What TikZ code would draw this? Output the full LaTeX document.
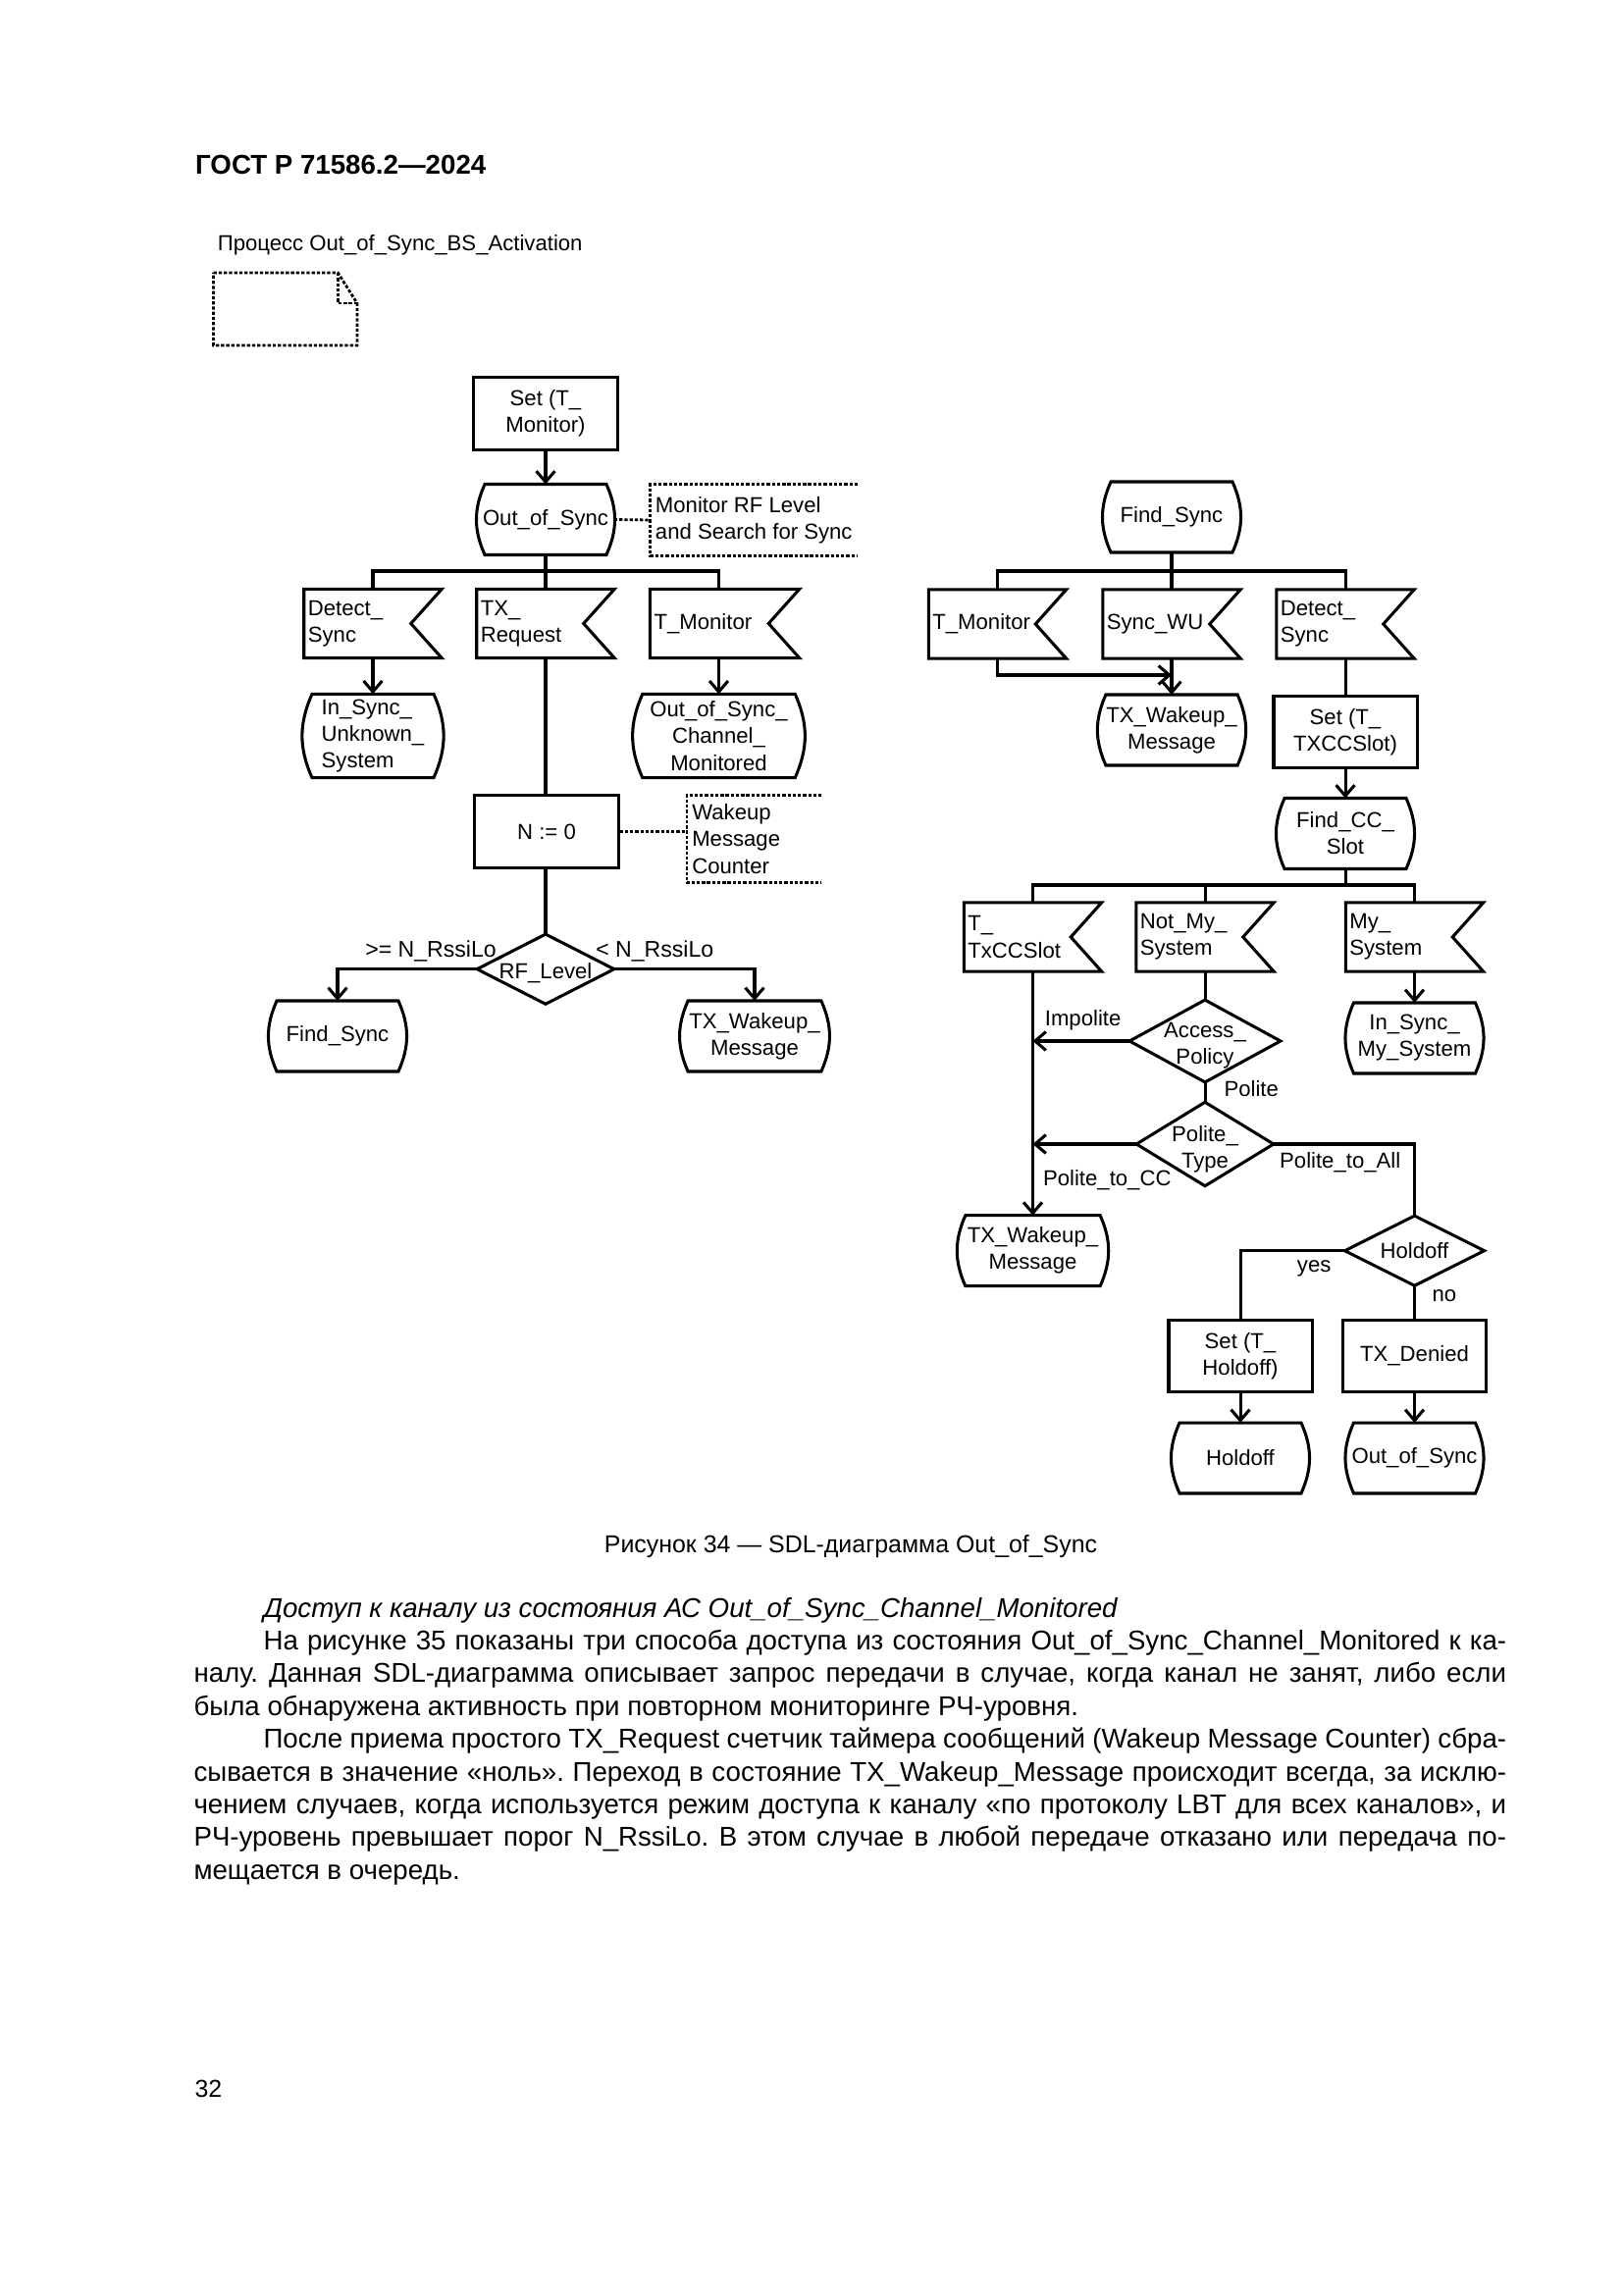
\documentclass[tikz,border=0pt]{standalone}
\usepackage{fontspec}
\setmainfont{Liberation Sans}
\usetikzlibrary{arrows.meta}

\tikzset{
  shp/.style={line width=1.1pt},
  lnk/.style={line width=1.1pt},
  arr/.style={line width=1.1pt,-{Straight Barb[length=1.4mm,width=2.4mm]}},
  dots/.style={line width=1pt,dash pattern=on 1.2pt off 0.7pt},
  txt/.style={font=\fontsize{8}{9.8}\selectfont,inner sep=0.45mm},
  box/.style={txt,draw,line width=1.1pt,minimum width=18.55mm,minimum height=9.3mm,align=center},
  state/.style={txt,minimum width=17.6mm,minimum height=9mm,align=center},
  sig/.style={txt,text width=16.8mm,minimum height=8.8mm,align=left},
  dec/.style={minimum width=17.6mm,minimum height=8.9mm,inner sep=0pt},
  dectext/.style={txt,align=center,inner sep=0pt},
  cmt/.style={txt,anchor=west,align=left,inner xsep=0.6mm},
  lbl/.style={txt,anchor=base west,inner sep=0pt},
  body/.style={anchor=base west,inner sep=0pt,font=\fontsize{10}{12}\selectfont},
}

% outlines of the SDL symbols
\newcommand{\drawstate}[1]{\draw[shp] ([xshift=1mm]#1.north west) -- ([xshift=-1mm]#1.north east) to[bend left=24] ([xshift=-1mm]#1.south east) -- ([xshift=1mm]#1.south west) to[bend left=24] ([xshift=1mm]#1.north west) -- cycle;}
\newcommand{\drawsig}[1]{\draw[shp] (#1.north west) -- (#1.north east) -- ([xshift=-4mm]#1.east) -- (#1.south east) -- (#1.south west) -- cycle;}
\newcommand{\drawdec}[1]{\draw[shp] (#1.west) -- (#1.north) -- (#1.east) -- (#1.south) -- cycle;}
% tighter word spaces for the justified lines
\newcommand{\tsp}{\spaceskip=2.78pt plus 2.5pt minus 1.2pt\relax}

\frenchspacing
\begin{document}
\begin{tikzpicture}[x=0.127mm,y=-0.127mm]
 \fill[white] (0,0) rectangle (1654,2339);
 \useasboundingbox (0,0) rectangle (1654,2339);

 % page head
 \node[body,font=\bfseries\fontsize{10}{12}\selectfont] (hdr) at (198.6,178) {ГОСТ Р 71586.2—2024};
 \node[lbl] (proc) at (221.3,256) {Процесс Out\_of\_Sync\_BS\_Activation};
 \draw[dots] (217.6,278) -- (344.4,278) -- (363.9,309) -- (363.9,352) -- (217.6,352) -- cycle;
 \draw[dots] (344.4,278) -- (344.4,309) -- (363.9,309);

 % left part
 \node[box] (setmon) at (556,421.5) {Set (T\_\\Monitor)};
 \node[state] (oos1) at (556,529.5) {Out\_of\_Sync};
 \node[cmt,minimum height=9.1mm] (cmt1) at (662.7,530) {Monitor RF Level\\and Search for Sync};
 \node[sig] (detA) at (380,635.5) {Detect\_\\Sync};
 \node[sig] (txreq) at (556,635.5) {TX\_\\Request};
 \node[sig,text width=18.3mm] (tmonA) at (738.6,635.5) {T\_Monitor};
 \node[state,minimum height=10.7mm,align=left] (insyncU) at (380,750) {In\_Sync\_\\Unknown\_\\System};
 \node[state,minimum width=21.6mm,minimum height=10.7mm] (oosCM) at (732.5,750) {Out\_of\_Sync\_\\Channel\_\\Monitored};
 \node[box] (nzero) at (557,847.5) {N := 0};
 \node[cmt,minimum height=11.2mm] (cmt2) at (700,855) {Wakeup\\Message\\Counter};
 \node[dec] (rflev) at (556,987.7) {};
 \node[dectext] (rflevT) at ([yshift=-0.5mm]rflev) {RF\_Level};
 \node[state] (findA) at (344,1056) {Find\_Sync};
 \node[state,minimum width=19.1mm] (txwA) at (769,1056) {TX\_Wakeup\_\\Message};

 \coordinate (brL) at (556,582);
 \draw[arr] (setmon.south) -- (oos1.north);
 \draw[lnk] (oos1.south) -- (brL);
 \draw[lnk] (detA.north) |- (brL);
 \draw[lnk] (txreq.north) -- (brL);
 \draw[lnk] (oosCM.north |- tmonA.north) |- (brL);
 \draw[arr] (detA.south) -- (insyncU.north);
 \draw[arr] (oosCM.north |- tmonA.south) -- (oosCM.north);
 \draw[lnk] (txreq.south) -- (nzero.north -| txreq.south);
 \draw[lnk] (nzero.south -| rflev.north) -- (rflev.north);
 \draw[arr] (rflev.west) -| (findA.north);
 \draw[arr] (rflev.east) -| (txwA.north);
 \draw[dots] (oos1.east) -- (cmt1.west);
 \draw[dots] ([xshift=26.85mm]cmt1.north west) -- (cmt1.north west) -- (cmt1.south west) -- ([xshift=26.85mm]cmt1.south west);
 \draw[dots] (nzero.east) -- (nzero.east -| cmt2.west);
 \draw[dots] ([xshift=17.45mm]cmt2.north west) -- (cmt2.north west) -- (cmt2.south west) -- ([xshift=17.45mm]cmt2.south west);
 \node[lbl,font=\fontsize{8.35}{10}\selectfont] (ge) at (371.7,975) {>= N\_RssiLo};
 \node[lbl,font=\fontsize{8.35}{10}\selectfont] (lt) at (606.7,975) {< N\_RssiLo};

 % right part
 \node[state] (findB) at (1194,527) {Find\_Sync};
 \node[sig] (tmonB) at (1016.5,636) {T\_Monitor};
 \node[sig] (syncwu) at (1194,636) {Sync\_WU};
 \node[sig] (detB) at (1371,636) {Detect\_\\Sync};
 \node[state,minimum width=18.9mm] (txwB) at (1194,744) {TX\_Wakeup\_\\Message};
 \node[box] (settx) at (1371,746) {Set (T\_\\TXCCSlot)};
 \node[state] (findcc) at (1371,849.5) {Find\_CC\_\\Slot};
 \node[sig] (ttx) at (1052.5,955) {T\_\\TxCCSlot};
 \node[sig] (notmy) at (1228,955) {Not\_My\_\\System};
 \node[sig] (mysys) at (1441.5,955) {My\_\\System};
 \node[state] (insyncM) at (1441.5,1058) {In\_Sync\_\\My\_System};
 \node[dec,minimum width=19.4mm,minimum height=10.5mm] (access) at (1228,1061) {};
 \node[dectext] (accessT) at ([yshift=-0.6mm]access) {Access\_\\Policy};
 \node[dec,minimum height=10.7mm] (polite) at (1228,1166) {};
 \node[dectext] (politeT) at ([yshift=-0.7mm]polite) {Polite\_\\Type};
 \node[state,minimum width=19.3mm] (txwC) at (1052.5,1274.7) {TX\_Wakeup\_\\Message};
 \node[dec,minimum width=17.9mm] (holdD) at (1441.5,1274.7) {};
 \node[dectext] (holdDT) at (holdD) {Holdoff};
 \node[box] (setho) at (1264,1382) {Set (T\_\\Holdoff)};
 \node[box] (txden) at (1441.5,1382) {TX\_Denied};
 \node[state] (holdS) at (1264,1486) {Holdoff};
 \node[state] (oosB) at (1441.5,1486) {Out\_of\_Sync};

 \coordinate (brR) at (1194,582);
 \coordinate (jWU) at (1194,688);
 \coordinate (brR2) at (1371,902);
 \draw[lnk] (findB.south) -- (brR);
 \draw[lnk] (tmonB.north) |- (brR);
 \draw[lnk] (syncwu.north) -- (brR);
 \draw[lnk] (detB.north) |- (brR);
 \draw[arr] (tmonB.south) |- (jWU);
 \draw[arr] (syncwu.south) -- (txwB.north);
 \draw[lnk] (detB.south) -- (settx.north);
 \draw[arr] (settx.south) -- (findcc.north);
 \draw[lnk] (findcc.south) -- (brR2);
 \draw[lnk] (ttx.north) |- (brR2);
 \draw[lnk] (notmy.north) |- (brR2);
 \draw[lnk] (mysys.north) |- (brR2);
 \draw[arr] (mysys.south) -- (insyncM.north);
 \draw[arr] (ttx.south) -- (txwC.north);
 \draw[lnk] (notmy.south) -- (access.north);
 \draw[arr] (access.west) -- (access.west -| ttx.south);
 \draw[lnk] (access.south) -- (polite.north);
 \draw[arr] (polite.west) -- (polite.west -| ttx.south);
 \draw[lnk] (polite.east) -| (holdD.north);
 \draw[lnk] (holdD.west) -| (setho.north);
 \draw[lnk] (holdD.south) -- (txden.north);
 \draw[arr] (setho.south) -- (holdS.north);
 \draw[arr] (txden.south) -- (oosB.north);
 \node[lbl] (impol) at (1064.3,1045) {Impolite};
 \node[lbl] (pol) at (1247,1117) {Polite};
 \node[lbl] (polcc) at (1062.5,1208) {Polite\_to\_CC};
 \node[lbl] (polall) at (1303.6,1190) {Polite\_to\_All};
 \node[lbl] (yes) at (1321.4,1296) {yes};
 \node[lbl] (no) at (1459,1326) {no};

 \foreach \n in {oos1,insyncU,oosCM,findA,txwA,findB,txwB,findcc,insyncM,txwC,holdS,oosB}
 \drawstate{\n};
 \foreach \n in {detA,txreq,tmonA,tmonB,syncwu,detB,ttx,notmy,mysys}
 \drawsig{\n};
 \foreach \n in {rflev,access,polite,holdD}
 \drawdec{\n};

 % caption and text
 \node[body,anchor=base,font=\fontsize{9}{11}\selectfont] (capt) at (867,1582) {Рисунок 34 — SDL-диаграмма Out\_of\_Sync};
 \node[body,font=\itshape\fontsize{10}{12}\selectfont] (l0) at (268,1648) {Доступ к каналу из состояния АС Out\_of\_Sync\_Channel\_Monitored};
 \node[body] (l1) at (268,1681.4) {\makebox[160.86mm][s]{\tsp На рисунке 35 показаны три способа доступа из состояния Out\_of\_Sync\_Channel\_Monitored к ка-}};
 \node[body] (l2) at (197,1714.8) {\makebox[169.87mm][s]{\tsp налу. Данная SDL-диаграмма описывает запрос передачи в случае, когда канал не занят, либо если}};
 \node[body] (l3) at (197,1748.2) {была обнаружена активность при повторном мониторинге РЧ-уровня.};
 \node[body] (l4) at (268,1781.6) {\makebox[160.86mm][s]{\tsp После приема простого TX\_Request счетчик таймера сообщений (Wakeup Message Counter) сбра-}};
 \node[body] (l5) at (197,1815) {\makebox[169.87mm][s]{\tsp сывается в значение «ноль». Переход в состояние TX\_Wakeup\_Message происходит всегда, за исклю-}};
 \node[body] (l6) at (197,1848.4) {\makebox[169.87mm][s]{\tsp чением случаев, когда используется режим доступа к каналу «по протоколу LBT для всех каналов», и}};
 \node[body] (l7) at (197,1881.8) {\makebox[169.87mm][s]{\tsp РЧ-уровень превышает порог N\_RssiLo. В этом случае в любой передаче отказано или передача по-}};
 \node[body] (l8) at (197,1915.2) {мещается в очередь.};
 \node[body,font=\fontsize{9}{11}\selectfont] (pgno) at (198,2137) {32};
\end{tikzpicture}
\end{document}
